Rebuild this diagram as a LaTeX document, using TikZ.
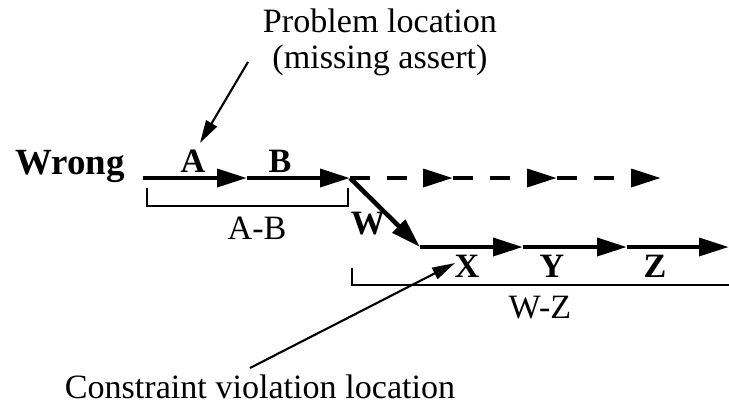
\documentclass[tikz,border=0pt]{standalone}
\usepackage{fontspec}
\setmainfont{Liberation Serif}
\usetikzlibrary{arrows.meta}

\begin{document}
\begin{tikzpicture}[x=0.01cm,y=-0.01cm,
  flow/.style={line width=1.3pt,-{Triangle[length=8.5pt,width=5pt]}},
  ghost/.style={flow,dash pattern=on 5.7pt off 4.8pt},
  pointer/.style={line width=0.6pt,-{Triangle[length=6.5pt,width=3.5pt]}},
  span/.style={line width=0.6pt},
  lbl/.style={font=\fontsize{9.7}{11}\selectfont\bfseries,inner sep=0pt},
  note/.style={font=\fontsize{9.7}{10.2}\selectfont,inner sep=0pt,align=center}]
  \useasboundingbox (0,0) rectangle (729,405);
  % wrong path A -> B
  \coordinate (s0) at (143,178);
  \coordinate (a1) at (247,178);
  \coordinate (b1) at (350,178);
  \draw[flow] (s0) -- (a1);
  \draw[flow] (a1) -- (b1);
  % path that should have been taken (dashed)
  \coordinate (d1) at (453,178);
  \coordinate (d2) at (557,178);
  \coordinate (d3) at (661,178);
  \draw[ghost] (b1) -- (d1);
  \draw[ghost] (d1) -- (d2);
  \draw[ghost] (d2) -- (d3);
  % branch W, then X -> Y -> Z
  \coordinate (w1) at (420,247);
  \coordinate (x1) at (523,247);
  \coordinate (y1) at (627,247);
  \coordinate (z1) at (729,247);
  \draw[flow] (b1) -- (w1);
  \draw[flow] (w1) -- (x1);
  \draw[flow] (x1) -- (y1);
  \draw[flow] (y1) -- (z1);
  % labels on the edges
  \node[lbl,font=\fontsize{10.5}{12}\selectfont\bfseries] (Wrong) at (70,166) {Wrong};
  \node[lbl] (A) at (193,161) {A};
  \node[lbl] (B) at (280,161) {B};
  \node[lbl] (W) at (368,224) {W};
  \node[lbl] (X) at (467,266) {X};
  \node[lbl] (Y) at (552,266) {Y};
  \node[lbl] (Z) at (655,266) {Z};
  % brackets
  \coordinate (ab0) at (147,188);
  \coordinate (ab1) at (348,188);
  \draw[span] (ab0) -- ++(0,18) -| (ab1);
  \node[note] (AB) at (257,228) {A-B};
  \coordinate (wz0) at (352,268);
  \coordinate (wz1) at (729,285);
  \draw[span] (wz0) |- (wz1);
  \node[note] (WZ) at (540,308) {W-Z};
  % locations
  \node[note] (prob) at (380,42) {Problem location\\(missing assert)};
  \coordinate (pa0) at (248,62);
  \coordinate (pa1) at (200,143);
  \draw[pointer] (pa0) -- (pa1);
  \node[note] (cv) at (260,387) {Constraint violation location};
  \coordinate (cv0) at (250,368);
  \coordinate (cv1) at (455,263);
  \draw[pointer] (cv0) -- (cv1);
\end{tikzpicture}
\end{document}
